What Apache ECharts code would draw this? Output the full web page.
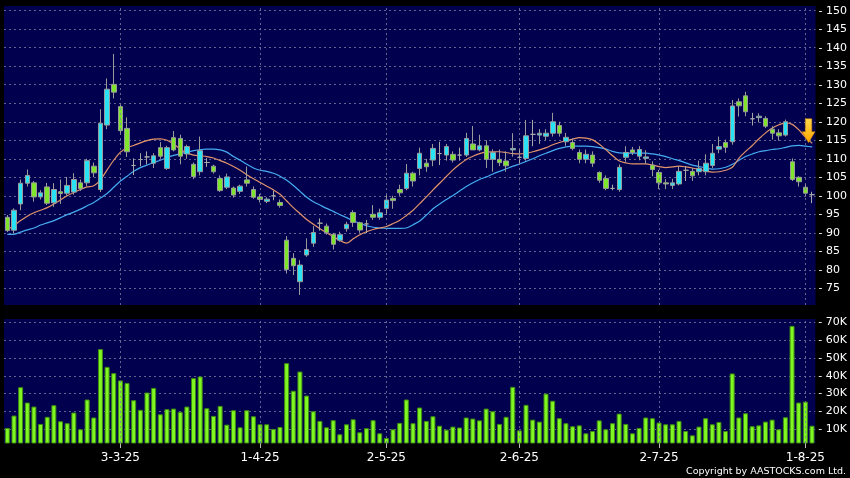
<!DOCTYPE html>
<html>
<head>
<meta charset="utf-8">
<script src="https://cdn.jsdelivr.net/npm/echarts@6/dist/echarts.min.js"></script>
<style>
html,body{margin:0;padding:0;background:#000;}
#c{width:850px;height:478px;}
</style>
</head>
<body>
<div id="c"></div>
<script>
const dates = [
"6-2-25","7-2-25","10-2-25","11-2-25","12-2-25","13-2-25","14-2-25","17-2-25","18-2-25","19-2-25","20-2-25","21-2-25","24-2-25","25-2-25","26-2-25","27-2-25","28-2-25",
"3-3-25","4-3-25","5-3-25","6-3-25","7-3-25","10-3-25","11-3-25","12-3-25","13-3-25","14-3-25","17-3-25","18-3-25","19-3-25","20-3-25","21-3-25","24-3-25","25-3-25","26-3-25","27-3-25","28-3-25","31-3-25",
"1-4-25","2-4-25","3-4-25","7-4-25","8-4-25","9-4-25","10-4-25","11-4-25","14-4-25","15-4-25","16-4-25","17-4-25","22-4-25","23-4-25","24-4-25","25-4-25","28-4-25","29-4-25","30-4-25",
"2-5-25","6-5-25","7-5-25","8-5-25","9-5-25","12-5-25","13-5-25","14-5-25","15-5-25","16-5-25","19-5-25","20-5-25","21-5-25","22-5-25","23-5-25","26-5-25","27-5-25","28-5-25","29-5-25","30-5-25",
"2-6-25","3-6-25","4-6-25","5-6-25","6-6-25","9-6-25","10-6-25","11-6-25","12-6-25","13-6-25","16-6-25","17-6-25","18-6-25","19-6-25","20-6-25","23-6-25","24-6-25","25-6-25","26-6-25","27-6-25","30-6-25",
"2-7-25","3-7-25","4-7-25","7-7-25","8-7-25","9-7-25","10-7-25","11-7-25","14-7-25","15-7-25","16-7-25","17-7-25","18-7-25","21-7-25","22-7-25","23-7-25","24-7-25","25-7-25","28-7-25","29-7-25","30-7-25","31-7-25",
"1-8-25","4-8-25"];

const opens = [94.2,90.7,97.8,103.4,103.5,99.7,102.4,98.1,101.1,100.7,101,103.5,103.5,108,101.7,119.1,130.1,124.1,118.2,108.2,
109.8,110.5,108.8,113,107.4,115.7,115.5,111.3,108.5,106.5,109,108,104.7,102.3,102.1,101.2,104.3,101.7,99.7,98.5,
100,98.2,88,83.1,76.8,84,87.2,92.6,91.8,89.6,88,91.1,95.5,92.7,92.4,95,94.2,96.6,99.3,101.7,
102,106.1,107.4,108.8,109.65,111.4,111,111.2,111,111,114,112.4,113.5,109.85,109.85,109.4,112.4,110.4,110.1,116.6,
116.4,116.1,116.9,119,114.6,114.4,111.7,109.85,111,106.3,104.7,102,101.7,110.4,112.4,110.7,110.1,108.3,106.3,103.5,
102.8,103.2,106.9,106.6,106.5,106.5,108.2,112.6,114.4,114.6,125.4,127,120.8,121.1,120.9,118,117,116.4,109.2,105,
102.3,100.3];
const closes = [90.6,96.1,103.4,105.5,99.7,100.8,98,101.7,100.6,102.8,104.4,101.9,109.5,106.2,119.6,128.8,128,117.6,111.9,108.2,
109.8,110.5,110.8,110.7,113,112.4,110.7,113.3,105.2,112.2,109,106.5,101.4,105.1,100.2,102.6,103.4,99.6,99,99.1,
100,97.4,80.1,81.1,81.3,85.5,90.1,92.6,90.1,86.9,89.5,92.3,92.8,90.75,92.4,94.2,95.4,98.85,98.7,100.8,
106.1,104,111.5,107.85,112.8,111.4,113.3,109.65,111,115.5,112.4,113.5,109.85,111.7,108.95,108.1,112.8,110.4,116.2,116.6,
116.9,116.9,120,116.9,115.8,112.8,109.85,111.2,108.8,104.2,102,102,107.7,111.7,111.7,112.5,110.5,107.1,103.5,103.2,
103.5,106.6,106.9,105.4,107.4,108.8,111.5,113.3,113.1,124.25,124.3,122.7,120.8,121.5,118.8,116.9,116.2,120,104.4,103.8,
100.7,100.3];
const lows = [90.2,89.8,96.1,102.5,98.4,99,97.5,97,97.8,100,100.3,101.3,102.6,105,101,118,126.3,116.5,110.5,105.6,
108,108.5,107.5,110,107,112,108.5,110,104.5,105.5,107.8,106,101,101.8,99.5,100.5,102.5,99.2,98.2,98,
98.8,96.8,79,78.6,73.2,83.5,86.2,90.6,89.5,85.5,87.6,90.3,91.6,90,89.9,93.5,93.5,94.8,96.5,100,
101.5,102.5,105.5,106.5,108,108.3,109.5,109,109.5,110.5,112.4,112,107.5,106.5,108,106.5,110.55,108.5,109.5,113.4,
114,115,116,116,113.5,112.3,108.8,108.8,107.8,103.5,101.5,101.5,101.1,109.2,111,109.6,108.6,105.3,101.8,101.8,
101.8,102.8,104,104,105.5,105.5,107.5,111.5,111.6,113.8,121.4,121.5,119,119.8,118.3,115.2,114.9,116,104,102.5,
99.9,98];
const highs = [94.8,96.6,104.4,107.1,104,101.5,103.5,103.4,104.4,105.1,106.1,104.4,110,109,123.4,131.7,138.3,124.6,121.2,110.1,
111.5,112,111.5,114.5,113.5,117.5,116.5,113.8,109,116,110.2,108.4,105.5,106,102.5,103,107.9,102.5,100.5,99.6,
101.3,99,89.1,84.5,82.6,88.5,91.8,93.9,92.5,90,90.3,93,96.1,93,93.5,97.5,96.5,100.2,100,103,
108.6,106.5,113,110,114,114.6,114,112,113,117,118.85,116.5,115,112.55,112.5,112,116.9,112.5,120.5,120.5,
118,118,122.4,120,117,115.5,112.5,112.5,112,106.6,105.5,103,108.5,113.4,113.2,113.4,112.3,109.3,107,104.5,
104.6,108,108,107.5,109.5,111.2,114,116,115.2,125.9,126.3,128.1,122.4,122.3,121.5,118.8,118,120.6,110.1,105.3,
103.2,101.1];

const volumesK = [10.75,17.7,33.6,25,22.75,13,17,23.5,14.5,13.4,19.4,10,26.7,16.6,55,45,41.5,37.4,36,26.3,
20.9,30.6,33.2,18.4,21.3,21.6,19.75,22.75,38.7,39.6,21.8,17.5,23.1,12.6,20.7,11.1,20.7,17.3,12.8,12.8,
10.2,11.3,47.1,31.6,42.4,28.9,20.1,14.7,11.1,15.1,7.2,12.8,15.6,8.3,10.6,15.1,7.75,5.1,10,13.6,
26.7,13.4,22.2,14.7,17.3,12,9.8,11.5,11,16.6,16,15,21.6,20.1,13,17,33.8,9.4,23.7,15.4,
14.3,30,26,16.2,13.4,11.7,12.2,7.75,9,15,10,13.4,18.8,13,7.75,10.75,16.6,16.2,13.75,12.8,
12.8,14.7,9,6.6,11.5,16.2,12.8,14.1,9,41.3,16.6,19,11.7,12.2,14.3,15.4,10,16.75,68,25,
25.5,12];

const maShort = [90.9,92,93.3,94.5,95.4,96.1,96.8,97.8,98.9,100,100.9,101.7,102.4,102.7,104.3,107,109.6,111.8,113,113.6,
114.3,114.9,115.3,115.4,115,114,112.6,111.6,111,110.8,110.6,110.2,109.5,108.8,107.9,106.9,105.7,104.6,103.6,102.6,
101.6,100.4,98.6,96.8,95.2,93.6,92.3,91.1,90,89,87.9,87.2,88.4,89.5,90.3,90.9,91.3,91.7,92.5,93.4,
94.7,96.1,97.9,99.7,101.6,103.4,105.2,107,108.5,109.8,110.7,111.4,111.8,111.9,111.9,111.7,111.4,111.3,111.5,111.9,
112.4,113,113.8,114.4,114.9,115.3,115.7,115.6,115.1,113.9,112.4,110.8,109.4,108.9,108.6,108.6,108.6,108.3,107.9,107.6,
107.8,108,107.8,107.5,107.1,106.7,106.4,106.5,106.9,107.7,110.2,112,113.6,115.4,117,118.3,119.2,119.7,119.3,117.8,
115.8,114.2];
const maLong = [89.6,89.6,90.2,90.8,91.3,92.1,92.7,93.3,94.1,94.9,95.6,96.4,97.3,98.2,99.4,100.6,102.3,104,105.3,106.6,
107.6,108.3,109,109.6,110.3,110.9,111.4,111.8,112.2,112.5,112.6,112.6,112.4,111.8,110.6,109.6,108.5,107.5,106.9,106.6,
106.1,105.3,104.2,102.8,101.2,99.6,98.4,97.5,96.6,95.8,94.9,94.1,93.2,92.6,91.9,91.5,91.3,91.2,91.2,91.2,
91.3,92.2,93.2,94.8,96.5,97.8,99,100.1,101.3,102.5,103.5,104.4,105.1,105.9,106.6,107.3,108,108.6,109.3,110,
110.8,111.5,112.2,112.8,113.2,113.4,113.4,113.4,113.3,113,112.6,112,111.6,111.5,111.5,111.5,111.5,111.3,111,110.6,
110,109.5,108.9,108.3,107.9,107.5,107.2,107.3,107.7,108.5,109.6,110.6,111.3,111.9,112.2,112.5,112.7,113.1,113.5,113.6,
113.4,113.2];

const priceTicks = [75,80,85,90,95,100,105,110,115,120,125,130,135,140,145,150];
const volumeTicksK = [10,20,30,40,50,60,70];
const dateTicks = ["3-3-25","1-4-25","2-5-25","2-6-25","2-7-25","1-8-25"];
const arrowDate = "1-8-25";
const arrowPrice = 117.6;

const UP = '#2ae2f6', DOWN = '#7ee52c', DOJI = '#a8a8a8', WICK = '#9a9a9a';
const GRID_STYLE = {color:'#7c7ca0', type:[2,3], width:1, opacity:0.8};
const FONT = 'DejaVu Sans';

const candleData = dates.map((d,i)=>{
  const v = [opens[i], closes[i], lows[i], highs[i]];
  if (opens[i] === closes[i]) {
    return {value:v, itemStyle:{color:DOJI,color0:DOJI,borderColor:DOJI,borderColor0:DOJI,borderColorDoji:DOJI}};
  }
  return {value:v};
});
const isDateTick = (idx) => dateTicks.indexOf(dates[idx]) >= 0;
const vGrid = (xi, yi) => ({
  type:'line', xAxisIndex:xi, yAxisIndex:yi, data:[], z:1, silent:true,
  markLine:{silent:true, symbol:['none','none'], label:{show:false}, animation:false,
    lineStyle:GRID_STYLE, emphasis:{disabled:true},
    data:dateTicks.map(d=>({xAxis:d}))}
});

const chart = echarts.init(document.getElementById('c'), null, {renderer:'canvas'});
chart.setOption({
  animation:false,
  backgroundColor:'#000000',
  grid:[
    {left:4, right:33, top:6, height:299, show:true, backgroundColor:'#00004e', borderWidth:0},
    {left:4, right:33, top:319, height:124, show:true, backgroundColor:'#00004e', borderWidth:0}
  ],
  xAxis:[
    {type:'category', gridIndex:0, data:dates, boundaryGap:true,
     axisLine:{show:false}, axisTick:{show:false}, axisLabel:{show:false}, splitLine:{show:false}},
    {type:'category', gridIndex:1, data:dates, boundaryGap:true,
     axisLine:{show:false},
     axisTick:{show:true, alignWithLabel:true, interval:isDateTick, length:5, lineStyle:{color:'#bbbbbb'}},
     axisLabel:{show:true, interval:isDateTick, color:'#ffffff', fontSize:12, fontFamily:FONT, margin:9},
     splitLine:{show:false}}
  ],
  yAxis:[
    {type:'value', gridIndex:0, position:'right', min:70.5, max:151.27,
     axisLine:{show:false},
     axisTick:{show:false, customValues:priceTicks},
     axisLabel:{show:true, customValues:priceTicks, color:'#ffffff', fontSize:11, fontFamily:FONT, margin:3,
       formatter:(v)=>'- '+v},
     splitLine:{show:true, lineStyle:GRID_STYLE}},
    {type:'value', gridIndex:1, position:'right', min:2.3, max:71.85,
     axisLine:{show:false},
     axisTick:{show:false, customValues:volumeTicksK},
     axisLabel:{show:true, customValues:volumeTicksK, color:'#ffffff', fontSize:11, fontFamily:FONT, margin:3,
       formatter:(v)=>'- '+v+'K'},
     splitLine:{show:true, lineStyle:GRID_STYLE}}
  ],
  series:[
    vGrid(0,0),
    vGrid(1,1),
    {type:'line', xAxisIndex:0, yAxisIndex:0, data:maLong, symbol:'none', smooth:0.3,
     lineStyle:{color:'#46acf2', width:1.2}, z:2},
    {type:'line', xAxisIndex:0, yAxisIndex:0, data:maShort, symbol:'none', smooth:0.3,
     lineStyle:{color:'#e3946a', width:1.2}, z:2},
    {type:'candlestick', xAxisIndex:0, yAxisIndex:0, data:candleData, barWidth:5, z:3,
     itemStyle:{color:UP, color0:DOWN, borderColor:WICK, borderColor0:WICK, borderColorDoji:DOJI, borderWidth:1},
     markPoint:{
       silent:true,
       data:[{coord:[arrowDate, arrowPrice], symbolOffset:[3,0],
              symbol:'path://M3,0 L9,0 L9,13 L12,13 L6,24 L0,13 L3,13 Z', symbolSize:[13,24],
              itemStyle:{color:new echarts.graphic.LinearGradient(0,0,0,1,[{offset:0,color:'#ffd84a'},{offset:1,color:'#ffa400'}]), borderColor:'#c07800', borderWidth:0.5},
              label:{show:false}}]
     }},
    {type:'bar', xAxisIndex:1, yAxisIndex:1, data:volumesK, barWidth:5, z:3,
     itemStyle:{color:'#80f622', borderColor:'#3e8c12', borderWidth:1}}
  ],
  graphic:[
    {type:'text', right:4, top:467, style:{text:'Copyright by AASTOCKS.com Ltd.', fill:'#ffffff', font:'9.5px "DejaVu Sans"'}}
  ]
});
</script>
</body>
</html>
